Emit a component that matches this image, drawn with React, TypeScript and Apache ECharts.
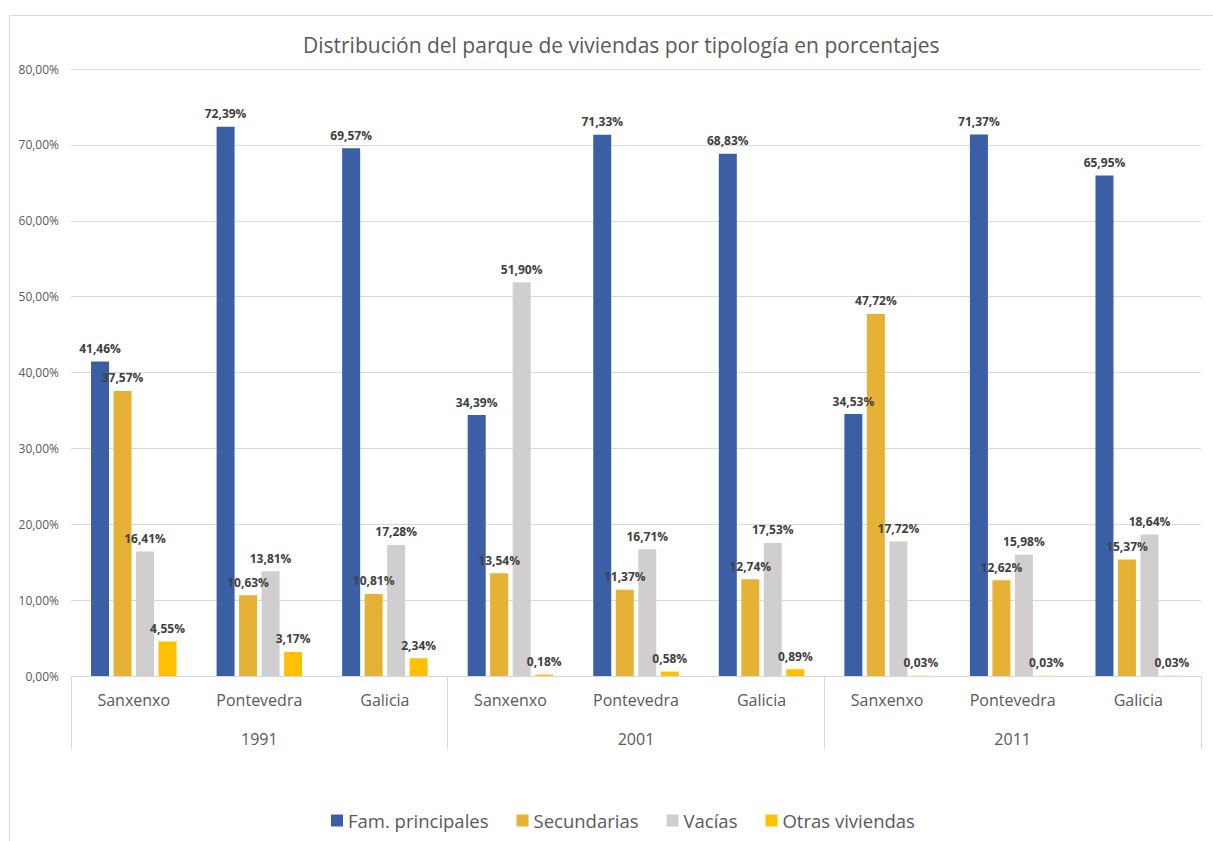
import React, { useEffect, useRef } from "react";
import * as echarts from "echarts";

const places = ["Sanxenxo", "Pontevedra", "Galicia", "Sanxenxo", "Pontevedra", "Galicia", "Sanxenxo", "Pontevedra", "Galicia"];
const years = ["1991", "2001", "2011"];
const seriesNames = ["Fam. principales", "Secundarias", "Vacías", "Otras viviendas"];
const famPrincipales = [41.46, 72.39, 69.57, 34.39, 71.33, 68.83, 34.53, 71.37, 65.95];
const secundarias = [37.57, 10.63, 10.81, 13.54, 11.37, 12.74, 47.72, 12.62, 15.37];
const vacias = [16.41, 13.81, 17.28, 51.9, 16.71, 17.53, 17.72, 15.98, 18.64];
const otras = [4.55, 3.17, 2.34, 0.18, 0.58, 0.89, 0.03, 0.03, 0.03];
const colors = ["#3A5FA4", "#E6B236", "#D0CECE", "#FFC000"];
const title = "Distribución del parque de viviendas por tipología en porcentajes";

const fmt = (v: number) => v.toFixed(2).replace(".", ",") + "%";
const FONT = "'Open Sans', 'Noto Sans', sans-serif";

export default function App() {
  const ref = useRef<HTMLDivElement>(null);
  useEffect(() => {
    const chart = echarts.init(ref.current!, null, { renderer: "svg" });
    const data = [famPrincipales, secundarias, vacias, otras];
    chart.setOption({
      animation: false,
      backgroundColor: "#ffffff",
      textStyle: { fontFamily: FONT },
      title: {
        text: title,
        left: 298,
        top: 29,
        textStyle: { fontFamily: FONT, fontSize: 21, fontWeight: "normal", color: "#595959" },
      },
      graphic: [
        {
          type: "rect",
          left: 7,
          top: 13,
          shape: { width: 1230, height: 860 },
          style: { fill: "none", stroke: "#d9d9d9", lineWidth: 1 },
          silent: true,
        },
      ],
      legend: {
        bottom: 6,
        left: 326,
        itemWidth: 12,
        itemHeight: 12,
        itemGap: 28,
        icon: "rect",
        textStyle: { fontFamily: FONT, fontSize: 18.5, color: "#595959" },
        data: seriesNames,
      },
      grid: { left: 71, right: 12, top: 69, bottom: 165, containLabel: false },
      xAxis: [
        {
          type: "category",
          data: places,
          position: "bottom",
          axisLine: { show: true, lineStyle: { color: "#d9d9d9", width: 1 } },
          axisTick: { show: false },
          axisLabel: { fontFamily: FONT, fontSize: 16, color: "#595959", margin: 16 },
        },
        {
          type: "category",
          data: years,
          position: "bottom",
          axisLine: { show: false },
          axisTick: { show: true, length: 73, lineStyle: { color: "#d9d9d9", width: 1 } },
          axisLabel: { fontFamily: FONT, fontSize: 16, color: "#595959", margin: 55 },
          splitLine: { show: false },
        },
      ],
      yAxis: {
        type: "value",
        min: 0,
        max: 80,
        interval: 10,
        axisLine: { show: false },
        axisTick: { show: false },
        axisLabel: { formatter: (v: number) => fmt(v), fontFamily: FONT, fontSize: 12, color: "#595959", margin: 12 },
        splitLine: { lineStyle: { color: "#d9d9d9", width: 1 } },
      },
      series: seriesNames.map((name, i) => ({
        name,
        type: "bar",
        xAxisIndex: 0,
        data: data[i],
        barWidth: 18,
        barGap: "25%",
        itemStyle: { color: colors[i] },
        label: {
          show: true,
          position: "top",
          distance: 7,
          formatter: (p: any) => fmt(p.value),
          fontFamily: FONT,
          fontSize: 12,
          fontWeight: "bold",
          color: "#404040",
        },
      })),
    });
    return () => chart.dispose();
  }, []);
  return <div ref={ref} style={{ position: "fixed", left: 0, top: 0, width: 1213, height: 841 }} />;
}
